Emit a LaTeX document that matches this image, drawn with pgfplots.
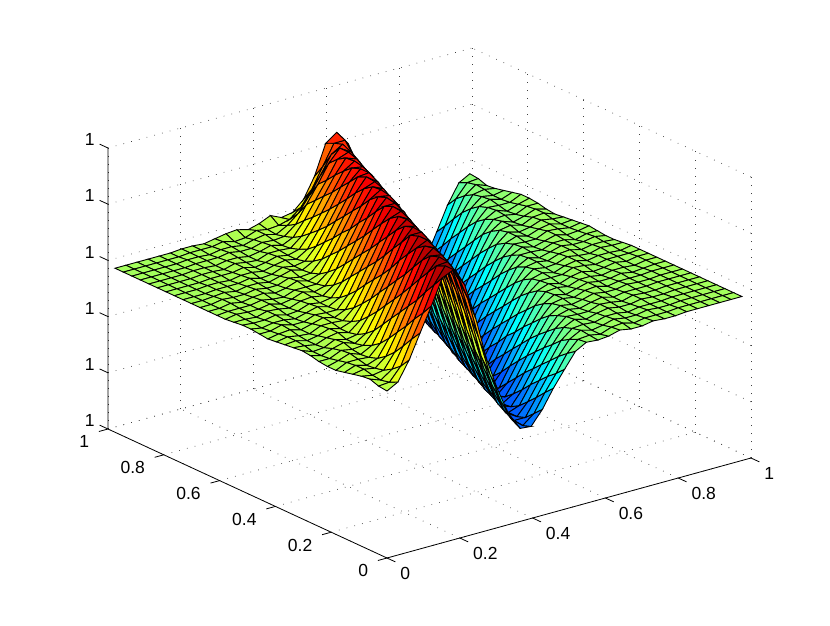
\documentclass[border=0pt]{standalone}
\usepackage{fontspec}
\setmainfont{Liberation Sans}
\usepackage{pgfplots}
\pgfplotsset{compat=1.18}
\pgfplotsset{colormap={matjet}{rgb=(0,0,.5) rgb=(0,0,1) rgb=(0,.5,1) rgb=(0,1,1) rgb=(.5,1,.5) rgb=(1,1,0) rgb=(1,.5,0) rgb=(1,0,0) rgb=(.5,0,0)}}
\begin{document}
\begin{tikzpicture}[x=1pt,y=1pt]
\path[use as bounding box] (-387,-70) rectangle (443,555);
\begin{axis}[
  at={(0,0)}, anchor=origin,
  x={(364pt,100pt)}, y={(-279pt,129pt)}, z={(0pt,1pt)},
  xmin=0, xmax=1, ymin=0, ymax=1, zmin=-3, zmax=278,
  xtick={0,0.2,0.4,0.6,0.8,1},
  ytick={0,0.2,0.4,0.6,0.8,1},
  ztick={-3,53.2,109.4,165.6,221.8,278},
  zticklabels={1,1,1,1,1,1},
  /pgf/number format/assume math mode=true,
  tick label style={font=\fontsize{17.5}{20}\selectfont,inner sep=0pt},
  xticklabel style={anchor=north west,xshift=5pt,yshift=-5.5pt},
  yticklabel style={anchor=north east,xshift=-10pt,yshift=-4pt},
  zticklabel style={anchor=east,xshift=-5pt,yshift=4.6pt},
  tick pos=left,
  tick align=outside,
  major tick length=9pt,
  tick style={draw=none},
  grid=major,
  grid style={black!75,line width=0.7pt,dash pattern=on 0.7pt off 7.3pt},
  axis line style={draw=none},
  clip=false,
  colormap name=matjet,
  point meta min=38, point meta max=268,
]
\addplot3[surf, shader=faceted, faceted color=black, line width=0.9pt, z buffer=sort, mesh/rows=33] table {
0 0 164
.030 0 170
.061 0 189
.091 0 213
.122 0 237
.152 0 262
.183 0 267
.213 0 249
.244 0 212
.274 0 168
.305 0 134
.335 0 107
.366 0 90
.396 0 89
.427 0 103
.457 0 121
.488 0 137
.518 0 152
.548 0 158
.579 0 157
.609 0 158
.640 0 161
.670 0 159
.701 0 159
.731 0 161
.762 0 160
.792 0 160
.823 0 161
.853 0 161
.884 0 161
.914 0 161
.945 0 161
.975 0 161
0 .030 165
.030 .030 166
.061 .030 179
.091 .030 203
.122 .030 226
.152 .030 251
.183 .030 267
.213 .030 258
.244 .030 229
.274 .030 187
.305 .030 147
.335 .030 117
.366 .030 95
.396 .030 86
.427 .030 95
.457 .030 113
.488 .030 129
.518 .030 146
.548 .030 157
.579 .030 158
.609 .030 156
.640 .030 160
.670 .030 161
.701 .030 158
.731 .030 160
.762 .030 160
.792 .030 160
.823 .030 161
.853 .030 161
.884 .030 161
.914 .030 161
.945 .030 161
.975 .030 161
0 .061 168
.030 .061 164
.061 .061 172
.091 .061 192
.122 .061 216
.152 .061 240
.183 .061 263
.213 .061 264
.244 .061 243
.274 .061 205
.305 .061 161
.335 .061 129
.366 .061 102
.396 .061 87
.427 .061 87
.457 .061 104
.488 .061 122
.518 .061 139
.548 .061 153
.579 .061 159
.609 .061 156
.640 .061 158
.670 .061 161
.701 .061 159
.731 .061 159
.762 .061 161
.792 .061 160
.823 .061 160
.853 .061 161
.884 .061 161
.914 .061 161
.945 .061 161
.975 .061 161
0 .091 167
.030 .091 165
.061 .091 167
.091 .091 182
.122 .091 205
.152 .091 228
.183 .091 253
.213 .091 265
.244 .091 254
.274 .091 222
.305 .091 180
.335 .091 142
.366 .091 112
.396 .091 91
.427 .091 84
.457 .091 96
.488 .091 114
.518 .091 131
.548 .091 148
.579 .091 157
.609 .091 158
.640 .091 157
.670 .091 160
.701 .091 160
.731 .091 158
.762 .091 160
.792 .091 160
.823 .091 160
.853 .091 161
.884 .091 161
.914 .091 161
.945 .091 161
.975 .091 161
0 .122 165
.030 .122 167
.061 .122 165
.091 .122 174
.122 .122 195
.152 .122 218
.183 .122 242
.213 .122 262
.244 .122 260
.274 .122 237
.305 .122 199
.335 .122 156
.366 .122 124
.396 .122 97
.427 .122 84
.457 .122 88
.488 .122 106
.518 .122 123
.548 .122 140
.579 .122 154
.609 .122 159
.640 .122 156
.670 .122 159
.701 .122 161
.731 .122 159
.762 .122 159
.792 .122 161
.823 .122 160
.853 .122 160
.884 .122 161
.914 .122 161
.945 .122 161
.975 .122 161
0 .152 163
.030 .152 167
.061 .152 164
.091 .152 168
.122 .152 185
.152 .152 208
.183 .152 231
.213 .152 254
.244 .152 263
.274 .152 248
.305 .152 215
.335 .152 173
.366 .152 137
.396 .152 107
.427 .152 87
.457 .152 83
.488 .152 97
.518 .152 115
.548 .152 133
.579 .152 149
.609 .152 158
.640 .152 157
.670 .152 157
.701 .152 161
.731 .152 160
.762 .152 158
.792 .152 161
.823 .152 160
.853 .152 160
.884 .152 161
.914 .152 161
.945 .152 161
.975 .152 161
0 .183 161
.030 .183 166
.061 .183 166
.091 .183 165
.122 .183 176
.152 .183 198
.183 .183 220
.213 .183 243
.244 .183 261
.274 .183 256
.305 .183 230
.335 .183 192
.366 .183 151
.396 .183 119
.427 .183 93
.457 .183 82
.488 .183 89
.518 .183 107
.548 .183 125
.579 .183 142
.609 .183 155
.640 .183 158
.670 .183 156
.701 .183 159
.731 .183 161
.762 .183 158
.792 .183 160
.823 .183 160
.853 .183 160
.884 .183 161
.914 .183 161
.945 .183 161
.975 .183 161
0 .213 161
.030 .213 164
.061 .213 168
.091 .213 164
.122 .213 170
.152 .213 188
.183 .213 210
.213 .213 232
.244 .213 255
.274 .213 260
.305 .213 243
.335 .213 209
.366 .213 167
.396 .213 131
.427 .213 102
.457 .213 84
.488 .213 82
.518 .213 98
.548 .213 117
.579 .213 135
.609 .213 151
.640 .213 158
.670 .213 156
.701 .213 158
.731 .213 161
.762 .213 159
.792 .213 159
.823 .213 161
.853 .213 160
.884 .213 160
.914 .213 161
.945 .213 161
.975 .213 161
0 .244 162
.030 .244 162
.061 .244 167
.091 .244 165
.122 .244 166
.152 .244 178
.183 .244 200
.213 .244 222
.244 .244 245
.274 .244 260
.305 .244 252
.335 .244 224
.366 .244 185
.396 .244 146
.427 .244 113
.457 .244 88
.488 .244 79
.518 .244 89
.548 .244 108
.579 .244 127
.609 .244 144
.640 .244 156
.670 .244 158
.701 .244 156
.731 .244 160
.762 .244 161
.792 .244 158
.823 .244 160
.853 .244 160
.884 .244 160
.914 .244 161
.945 .244 161
.975 .244 161
0 .274 164
.030 .274 161
.061 .274 165
.091 .274 168
.122 .274 164
.152 .274 171
.183 .274 190
.213 .274 212
.244 .274 235
.274 .274 257
.305 .274 257
.335 .274 238
.366 .274 202
.396 .274 161
.427 .274 126
.457 .274 96
.488 .274 79
.518 .274 80
.548 .274 99
.579 .274 118
.609 .274 136
.640 .274 152
.670 .274 158
.701 .274 155
.731 .274 158
.762 .274 161
.792 .274 159
.823 .274 159
.853 .274 161
.884 .274 159
.914 .274 160
.945 .274 161
.975 .274 161
0 .305 165
.030 .305 161
.061 .305 162
.091 .305 167
.122 .305 164
.152 .305 166
.183 .305 181
.213 .305 202
.244 .305 223
.274 .305 246
.305 .305 258
.335 .305 247
.366 .305 217
.396 .305 179
.427 .305 140
.457 .305 107
.488 .305 84
.518 .305 76
.548 .305 89
.579 .305 109
.609 .305 128
.640 .305 146
.670 .305 157
.701 .305 158
.731 .305 156
.762 .305 160
.792 .305 160
.823 .305 158
.853 .305 160
.884 .305 160
.914 .305 159
.945 .305 161
.975 .305 161
0 .335 164
.030 .335 163
.061 .335 161
.091 .335 165
.122 .335 167
.152 .335 164
.183 .335 173
.213 .335 192
.244 .335 213
.274 .335 236
.305 .335 255
.335 .335 252
.366 .335 231
.396 .335 196
.427 .335 156
.457 .335 120
.488 .335 91
.518 .335 77
.548 .335 81
.579 .335 100
.609 .335 119
.640 .335 138
.670 .335 154
.701 .335 158
.731 .335 155
.762 .335 159
.792 .335 161
.823 .335 158
.853 .335 159
.884 .335 161
.914 .335 159
.945 .335 161
.975 .335 161
0 .366 163
.030 .366 164
.061 .366 161
.091 .366 163
.122 .366 167
.152 .366 164
.183 .366 168
.213 .366 183
.244 .366 204
.274 .366 225
.305 .366 247
.335 .366 255
.366 .366 242
.396 .366 211
.427 .366 173
.457 .366 135
.488 .366 102
.518 .366 80
.548 .366 75
.579 .366 91
.609 .366 111
.640 .366 130
.670 .366 148
.701 .366 157
.731 .366 157
.762 .366 157
.792 .366 161
.823 .366 160
.853 .366 158
.884 .366 160
.914 .366 160
.945 .366 160
.975 .366 161
0 .396 162
.030 .396 164
.061 .396 162
.091 .396 161
.122 .396 166
.152 .396 166
.183 .396 165
.213 .396 175
.244 .396 195
.274 .396 215
.305 .396 237
.335 .396 254
.366 .396 248
.396 .396 225
.427 .396 190
.457 .396 150
.488 .396 115
.518 .396 86
.548 .396 74
.579 .396 81
.609 .396 101
.640 .396 121
.670 .396 141
.701 .396 155
.731 .396 158
.762 .396 155
.792 .396 159
.823 .396 161
.853 .396 158
.884 .396 160
.914 .396 160
.945 .396 159
.975 .396 161
0 .427 161
.030 .427 163
.061 .427 164
.091 .427 161
.122 .427 164
.152 .427 167
.183 .427 164
.213 .427 169
.244 .427 185
.274 .427 206
.305 .427 227
.335 .427 248
.366 .427 252
.396 .427 237
.427 .427 205
.457 .427 167
.488 .427 129
.518 .427 96
.548 .427 76
.579 .427 74
.609 .427 92
.640 .427 112
.670 .427 132
.701 .427 150
.731 .427 158
.762 .427 156
.792 .427 157
.823 .427 161
.853 .427 159
.884 .427 158
.914 .427 161
.945 .427 160
.975 .427 160
0 .457 162
.030 .457 162
.061 .457 165
.091 .457 162
.122 .457 162
.152 .457 166
.183 .457 165
.213 .457 165
.244 .457 177
.274 .457 197
.305 .457 217
.335 .457 239
.366 .457 253
.396 .457 245
.427 .457 219
.457 .457 183
.488 .457 145
.518 .457 109
.548 .457 81
.579 .457 71
.609 .457 82
.640 .457 103
.670 .457 123
.701 .457 143
.731 .457 156
.762 .457 158
.792 .457 156
.823 .457 160
.853 .457 161
.884 .457 158
.914 .457 160
.945 .457 160
.975 .457 159
0 .488 163
.030 .488 161
.061 .488 163
.091 .488 163
.122 .488 161
.152 .488 164
.183 .488 167
.213 .488 164
.244 .488 170
.274 .488 188
.305 .488 208
.335 .488 229
.366 .488 249
.396 .488 249
.427 .488 232
.457 .488 199
.488 .488 161
.518 .488 123
.548 .488 90
.579 .488 73
.609 .488 73
.640 .488 93
.670 .488 114
.701 .488 134
.731 .488 152
.762 .488 158
.792 .488 155
.823 .488 158
.853 .488 161
.884 .488 159
.914 .488 159
.945 .488 161
.975 .488 159
0 .518 163
.030 .518 162
.061 .518 162
.091 .518 164
.122 .518 161
.152 .518 162
.183 .518 166
.213 .518 164
.244 .518 166
.274 .518 179
.305 .518 199
.335 .518 219
.366 .518 240
.396 .518 251
.427 .518 241
.457 .518 213
.488 .518 177
.518 .518 139
.548 .518 103
.579 .518 77
.609 .518 69
.640 .518 83
.670 .518 105
.701 .518 125
.731 .518 145
.762 .518 157
.792 .518 157
.823 .518 156
.853 .518 160
.884 .518 160
.914 .518 157
.945 .518 160
.975 .518 160
0 .548 162
.030 .548 162
.061 .548 161
.091 .548 164
.122 .548 163
.152 .548 161
.183 .548 165
.213 .548 166
.244 .548 164
.274 .548 172
.305 .548 190
.335 .548 210
.366 .548 230
.396 .548 248
.427 .548 246
.457 .548 226
.488 .548 193
.518 .548 155
.548 .548 117
.579 .548 85
.609 .548 70
.640 .548 74
.670 .548 95
.701 .548 116
.731 .548 137
.762 .548 153
.792 .548 158
.823 .548 155
.853 .548 158
.884 .548 161
.914 .548 158
.945 .548 159
.975 .548 161
0 .579 161
.030 .579 163
.061 .579 162
.091 .579 162
.122 .579 164
.152 .579 161
.183 .579 163
.213 .579 167
.244 .579 164
.274 .579 167
.305 .579 181
.335 .579 201
.366 .579 221
.396 .579 241
.427 .579 248
.457 .579 236
.488 .579 207
.518 .579 172
.548 .579 132
.579 .579 97
.609 .579 74
.640 .579 68
.670 .579 85
.701 .579 107
.731 .579 127
.762 .579 147
.792 .579 157
.823 .579 156
.853 .579 156
.884 .579 161
.914 .579 160
.945 .579 158
.975 .579 160
0 .609 161
.030 .609 162
.061 .609 162
.091 .609 162
.122 .609 164
.152 .609 162
.183 .609 161
.213 .609 165
.244 .609 165
.274 .609 165
.305 .609 174
.335 .609 192
.366 .609 211
.396 .609 231
.427 .609 247
.457 .609 242
.488 .609 220
.518 .609 187
.548 .609 149
.579 .609 111
.609 .609 80
.640 .609 67
.670 .609 75
.701 .609 97
.731 .609 118
.762 .609 139
.792 .609 154
.823 .609 158
.853 .609 155
.884 .609 159
.914 .609 161
.945 .609 158
.975 .609 159
0 .640 161
.030 .640 161
.061 .640 163
.091 .640 161
.122 .640 163
.152 .640 164
.183 .640 161
.213 .640 163
.244 .640 167
.274 .640 164
.305 .640 168
.335 .640 184
.366 .640 203
.396 .640 222
.427 .640 241
.457 .640 245
.488 .640 231
.518 .640 202
.548 .640 166
.579 .640 126
.609 .640 91
.640 .640 70
.670 .640 67
.701 .640 86
.731 .640 109
.762 .640 130
.792 .640 149
.823 .640 158
.853 .640 155
.884 .640 157
.914 .640 161
.945 .640 159
.975 .640 158
0 .670 161
.030 .670 161
.061 .670 163
.091 .670 162
.122 .670 162
.152 .670 164
.183 .670 162
.213 .670 162
.244 .670 166
.274 .670 164
.305 .670 165
.335 .670 176
.366 .670 194
.396 .670 213
.427 .670 233
.457 .670 246
.488 .670 238
.518 .670 215
.548 .670 182
.579 .670 143
.609 .670 105
.640 .670 75
.670 .670 64
.701 .670 76
.731 .670 99
.762 .670 120
.792 .670 141
.823 .670 156
.853 .670 158
.884 .670 155
.914 .670 160
.945 .670 161
.975 .670 157
0 .701 161
.030 .701 161
.061 .701 162
.091 .701 163
.122 .701 161
.152 .701 163
.183 .701 163
.213 .701 161
.244 .701 164
.274 .701 167
.305 .701 164
.335 .701 170
.366 .701 186
.396 .701 204
.427 .701 223
.457 .701 242
.488 .701 243
.518 .701 226
.548 .701 196
.579 .701 161
.609 .701 120
.640 .701 84
.670 .701 65
.701 .701 65
.731 .701 87
.762 .701 110
.792 .701 132
.823 .701 151
.853 .701 158
.884 .701 154
.914 .701 157
.945 .701 161
.975 .701 158
0 .731 161
.030 .731 161
.061 .731 161
.091 .731 162
.122 .731 162
.152 .731 162
.183 .731 164
.213 .731 161
.244 .731 162
.274 .731 166
.305 .731 164
.335 .731 166
.366 .731 178
.396 .731 195
.427 .731 214
.457 .731 233
.488 .731 243
.518 .731 234
.548 .731 209
.579 .731 176
.609 .731 137
.640 .731 98
.670 .731 70
.701 .731 62
.731 .731 77
.762 .731 100
.792 .731 122
.823 .731 144
.853 .731 156
.884 .731 157
.914 .731 155
.945 .731 160
.975 .731 160
0 .762 161
.030 .762 161
.061 .762 161
.091 .762 162
.122 .762 162
.152 .762 161
.183 .762 163
.213 .762 163
.244 .762 161
.274 .762 164
.305 .762 166
.335 .762 164
.366 .762 171
.396 .762 187
.427 .762 205
.457 .762 224
.488 .762 240
.518 .762 238
.548 .762 220
.579 .762 191
.609 .762 155
.640 .762 113
.670 .762 79
.701 .762 62
.731 .762 67
.762 .762 90
.792 .762 112
.823 .762 134
.853 .762 152
.884 .762 158
.914 .762 154
.945 .762 158
.975 .762 161
0 .792 161
.030 .792 161
.061 .792 161
.091 .792 161
.122 .792 162
.152 .792 162
.183 .792 162
.213 .792 164
.244 .792 161
.274 .792 163
.305 .792 166
.335 .792 164
.366 .792 167
.396 .792 180
.427 .792 197
.457 .792 215
.488 .792 233
.518 .792 240
.548 .792 229
.579 .792 203
.609 .792 171
.640 .792 130
.670 .792 92
.701 .792 66
.731 .792 61
.762 .792 79
.792 .792 102
.823 .792 124
.853 .792 146
.884 .792 157
.914 .792 156
.945 .792 156
.975 .792 161
0 .823 161
.030 .823 161
.061 .823 161
.091 .823 161
.122 .823 162
.152 .823 162
.183 .823 161
.213 .823 164
.244 .823 162
.274 .823 161
.305 .823 165
.335 .823 165
.366 .823 164
.396 .823 173
.427 .823 189
.457 .823 207
.488 .823 225
.518 .823 239
.548 .823 235
.579 .823 215
.609 .823 185
.640 .823 149
.670 .823 107
.701 .823 74
.731 .823 59
.762 .823 68
.792 .823 91
.823 .823 114
.853 .823 137
.884 .823 154
.914 .823 158
.945 .823 155
.975 .823 159
0 .853 161
.030 .853 161
.061 .853 161
.091 .853 161
.122 .853 162
.152 .853 162
.183 .853 161
.213 .853 163
.244 .853 163
.274 .853 161
.305 .853 163
.335 .853 166
.366 .853 163
.396 .853 168
.427 .853 182
.457 .853 199
.488 .853 216
.518 .853 234
.548 .853 238
.579 .853 225
.609 .853 198
.640 .853 166
.670 .853 123
.701 .853 85
.731 .853 62
.762 .853 60
.792 .853 80
.823 .853 104
.853 .853 127
.884 .853 148
.914 .853 157
.945 .853 155
.975 .853 157
0 .884 161
.030 .884 161
.061 .884 161
.091 .884 161
.122 .884 161
.152 .884 162
.183 .884 162
.213 .884 162
.244 .884 164
.274 .884 162
.305 .884 162
.335 .884 165
.366 .884 164
.396 .884 165
.427 .884 174
.457 .884 191
.488 .884 208
.518 .884 226
.548 .884 238
.579 .884 231
.609 .884 210
.640 .884 180
.670 .884 142
.701 .884 100
.731 .884 68
.762 .884 57
.792 .884 69
.823 .884 94
.853 .884 117
.884 .884 140
.914 .884 155
.945 .884 157
.975 .884 155
0 .914 161
.030 .914 161
.061 .914 161
.091 .914 161
.122 .914 161
.152 .914 162
.183 .914 162
.213 .914 161
.244 .914 163
.274 .914 163
.305 .914 161
.335 .914 164
.366 .914 166
.396 .914 163
.427 .914 169
.457 .914 178
.488 .914 193
.518 .914 210
.548 .914 228
.579 .914 235
.609 .914 220
.640 .914 193
.670 .914 161
.701 .914 117
.731 .914 79
.762 .914 58
.792 .914 59
.823 .914 82
.853 .914 106
.884 .914 130
.914 .914 150
.945 .914 158
.975 .914 154
0 .945 161
.030 .945 161
.061 .945 161
.091 .945 161
.122 .945 161
.152 .945 161
.183 .945 162
.213 .945 162
.244 .945 162
.274 .945 164
.305 .945 161
.335 .945 162
.366 .945 166
.396 .945 164
.427 .945 165
.457 .945 168
.488 .945 177
.518 .945 192
.548 .945 212
.579 .945 232
.609 .945 232
.640 .945 208
.670 .945 175
.701 .945 135
.731 .945 93
.762 .945 64
.792 .945 55
.823 .945 71
.853 .945 96
.884 .945 119
.914 .945 143
.945 .945 156
.975 .945 157
0 .975 161
.030 .975 161
.061 .975 161
.091 .975 161
.122 .975 161
.152 .975 161
.183 .975 162
.213 .975 162
.244 .975 161
.274 .975 163
.305 .975 165
.335 .975 166
.366 .975 163
.396 .975 166
.427 .975 171
.457 .975 166
.488 .975 168
.518 .975 178
.548 .975 198
.579 .975 228
.609 .975 236
.640 .975 222
.670 .975 190
.701 .975 154
.731 .975 110
.762 .975 73
.792 .975 55
.823 .975 60
.853 .975 85
.884 .975 109
.914 .975 133
.945 .975 152
.975 .975 158
};
\draw[black,line width=0.8pt] (axis cs:1,0,-3) -- (axis cs:0,0,-3) -- (axis cs:0,1,-3) -- (axis cs:0,1,278);
% tick marks, along one side only as in the reference
\draw[black,line width=0.8pt]
  (axis cs:0,0,-3)--(axis cs:0,-0.03,-3) (axis cs:0.2,0,-3)--(axis cs:0.2,-0.03,-3)
  (axis cs:0.4,0,-3)--(axis cs:0.4,-0.03,-3) (axis cs:0.6,0,-3)--(axis cs:0.6,-0.03,-3)
  (axis cs:0.8,0,-3)--(axis cs:0.8,-0.03,-3) (axis cs:1,0,-3)--(axis cs:1,-0.03,-3)
  (axis cs:0,0,-3)--(axis cs:-0.025,0,-3) (axis cs:0,0.2,-3)--(axis cs:-0.025,0.2,-3)
  (axis cs:0,0.4,-3)--(axis cs:-0.025,0.4,-3) (axis cs:0,0.6,-3)--(axis cs:-0.025,0.6,-3)
  (axis cs:0,0.8,-3)--(axis cs:-0.025,0.8,-3) (axis cs:0,1,-3)--(axis cs:-0.025,1,-3)
  (axis cs:0,1,-3)--(axis cs:0,1.03,-3) (axis cs:0,1,53.2)--(axis cs:0,1.03,53.2)
  (axis cs:0,1,109.4)--(axis cs:0,1.03,109.4) (axis cs:0,1,165.6)--(axis cs:0,1.03,165.6)
  (axis cs:0,1,221.8)--(axis cs:0,1.03,221.8) (axis cs:0,1,278)--(axis cs:0,1.03,278);
\end{axis}
\end{tikzpicture}
\end{document}
